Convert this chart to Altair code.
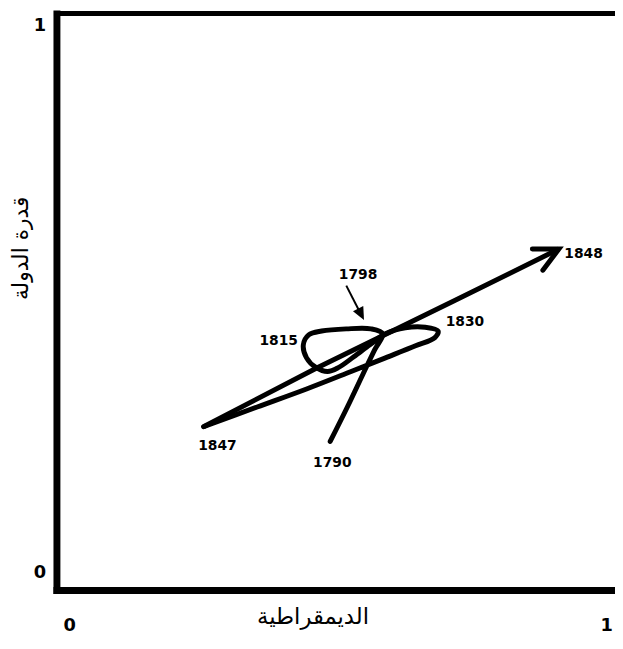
import math
import altair as alt
import pandas as pd

# ---- data (democracy on x, state capacity on y, both 0..1) ----
# trajectory 1790 -> 1798 -> 1815 -> 1830 -> 1847
path_a_x = [0.486, 0.518, 0.547, 0.569, 0.584, 0.562, 0.516, 0.470, 0.446, 0.436,
            0.442, 0.460, 0.481, 0.501, 0.530, 0.560, 0.589, 0.626, 0.663, 0.687,
            0.681, 0.645, 0.589, 0.525, 0.442, 0.350, 0.250]
path_a_y = [0.239, 0.302, 0.362, 0.407, 0.436, 0.445, 0.445, 0.441, 0.434, 0.416,
            0.392, 0.374, 0.367, 0.374, 0.394, 0.416, 0.436, 0.447, 0.448, 0.441,
            0.429, 0.414, 0.392, 0.367, 0.335, 0.302, 0.266]
# final leg 1847 -> 1848 (ends in an arrow)
path_b_x = [0.250, 0.460, 0.718, 0.912]
path_b_y = [0.266, 0.373, 0.497, 0.591]

year_labels = ["1790", "1798", "1815", "1830", "1847", "1848"]
label_x = [0.490, 0.538, 0.390, 0.737, 0.276, 0.958]
label_y = [0.199, 0.544, 0.423, 0.458, 0.231, 0.582]

# small pointer from the "1798" label to the curve (start, tip)
pointer_x = [0.516, 0.549]
pointer_y = [0.524, 0.461]

axis_values = [0, 1]
x_title = "الديمقراطية"
y_title = "قدرة الدولة"

# ---- layout ----
W, H = 565, 583
X_DOMAIN = [-13 / 543, 552 / 543]
Y_DOMAIN = [-18 / 553, 1 + 12 / 553]
PX_X = W / (X_DOMAIN[1] - X_DOMAIN[0])
PX_Y = H / (Y_DOMAIN[1] - Y_DOMAIN[0])


def screen_angle(x0, y0, x1, y1):
    dx = (x1 - x0) * PX_X
    dy = -(y1 - y0) * PX_Y
    return round(math.degrees(math.atan2(dy, dx)) % 360, 1)


FONT = "DejaVu Sans"

xs = alt.Scale(domain=X_DOMAIN, nice=False, zero=False)
ys = alt.Scale(domain=Y_DOMAIN, nice=False, zero=False)

x_axis = alt.Axis(values=axis_values, format="d", title=x_title, grid=False, ticks=False, tickSize=0,
                  domain=True, domainColor="black", domainWidth=7, domainCap="square",
                  labelFont=FONT, labelFontWeight="bold", labelFontSize=18, labelColor="black",
                  labelPadding=36, labelBaseline="middle", labelAlign="center", labelFlush=False,
                  titleFont=FONT, titleFontSize=23, titleFontWeight="normal", titleColor="black",
                  titleX=259, titleY=27, titleBaseline="middle", titleAlign="center")
y_axis = alt.Axis(values=axis_values, format="d", title=y_title, grid=False, ticks=False, tickSize=0,
                  domain=True, domainColor="black", domainWidth=7, domainCap="square",
                  labelFont=FONT, labelFontWeight="bold", labelFontSize=18, labelColor="black",
                  labelPadding=11, labelFlush=False,
                  titleFont=FONT, titleFontSize=22, titleFontWeight="normal", titleColor="black",
                  titleX=-36, titleY=237, titleAngle=270, titleBaseline="middle", titleAlign="center")

df_a = pd.DataFrame({"x": path_a_x, "y": path_a_y, "i": range(len(path_a_x))})
df_b = pd.DataFrame({"x": path_b_x, "y": path_b_y, "i": range(len(path_b_x))})
df_lab = pd.DataFrame({"x": label_x, "y": label_y, "t": year_labels})

# 1798 pointer: shaft stops a little before the tip
tip_x, tip_y = pointer_x[1], pointer_y[1]
dxp = (pointer_x[1] - pointer_x[0]) * PX_X
dyp = (pointer_y[1] - pointer_y[0]) * PX_Y
lp = math.hypot(dxp, dyp)
back = 9.0
shaft_end_x = tip_x - (dxp / lp) * back / PX_X
shaft_end_y = tip_y - (dyp / lp) * back / PX_Y
df_shaft = pd.DataFrame({"x": [pointer_x[0]], "y": [pointer_y[0]],
                         "x2": [shaft_end_x], "y2": [shaft_end_y]})
df_tip = pd.DataFrame({"x": [tip_x], "y": [tip_y]})
df_head = pd.DataFrame({"x": [path_b_x[-1]], "y": [path_b_y[-1]]})

pointer_angle = screen_angle(pointer_x[0], pointer_y[0], pointer_x[1], pointer_y[1])
head_angle = screen_angle(path_b_x[-2], path_b_y[-2], path_b_x[-1], path_b_y[-1])

frame_top = alt.Chart(pd.DataFrame({"a": [0]})).mark_rule(
    color="black", strokeWidth=5, strokeCap="square"
).encode(x=alt.value(0), x2=alt.value("width"), y=alt.value(0))

line_a = alt.Chart(df_a).mark_line(
    color="black", strokeWidth=5, interpolate="catmull-rom", strokeCap="round", strokeJoin="round"
).encode(x=alt.X("x:Q", scale=xs, axis=x_axis), y=alt.Y("y:Q", scale=ys, axis=y_axis),
         order=alt.Order("i:Q"))

line_b = alt.Chart(df_b).mark_line(
    color="black", strokeWidth=5, interpolate="linear", strokeCap="butt", strokeJoin="round"
).encode(x="x:Q", y="y:Q", order=alt.Order("i:Q"))

head = alt.Chart(df_head).mark_point(
    shape="M-2,-1L0,0L-2,1", size=576, filled=False, stroke="black", strokeWidth=5,
    strokeJoin="miter", strokeCap="round", angle=head_angle, opacity=1
).encode(x="x:Q", y="y:Q")

shaft = alt.Chart(df_shaft).mark_rule(color="black", strokeWidth=2).encode(
    x="x:Q", y="y:Q", x2="x2:Q", y2="y2:Q")

tip = alt.Chart(df_tip).mark_point(
    shape="M0,0L-2,-0.9L-2,0.9Z", size=169, filled=True, color="black", opacity=1,
    angle=pointer_angle
).encode(x="x:Q", y="y:Q")

labels = alt.Chart(df_lab).mark_text(
    font=FONT, fontWeight="bold", fontSize=14, color="black", align="center", baseline="middle"
).encode(x="x:Q", y="y:Q", text="t:N")

chart = alt.layer(line_a, line_b, head, shaft, tip, labels, frame_top).properties(
    width=W, height=H,
    padding={"left": 49, "top": 2, "right": 0, "bottom": 47},
    autosize=alt.AutoSizeParams(type="none"),
    background="white",
).configure_view(stroke=None)

chart.save("out.html", embed_options={"renderer": "svg", "actions": False})
